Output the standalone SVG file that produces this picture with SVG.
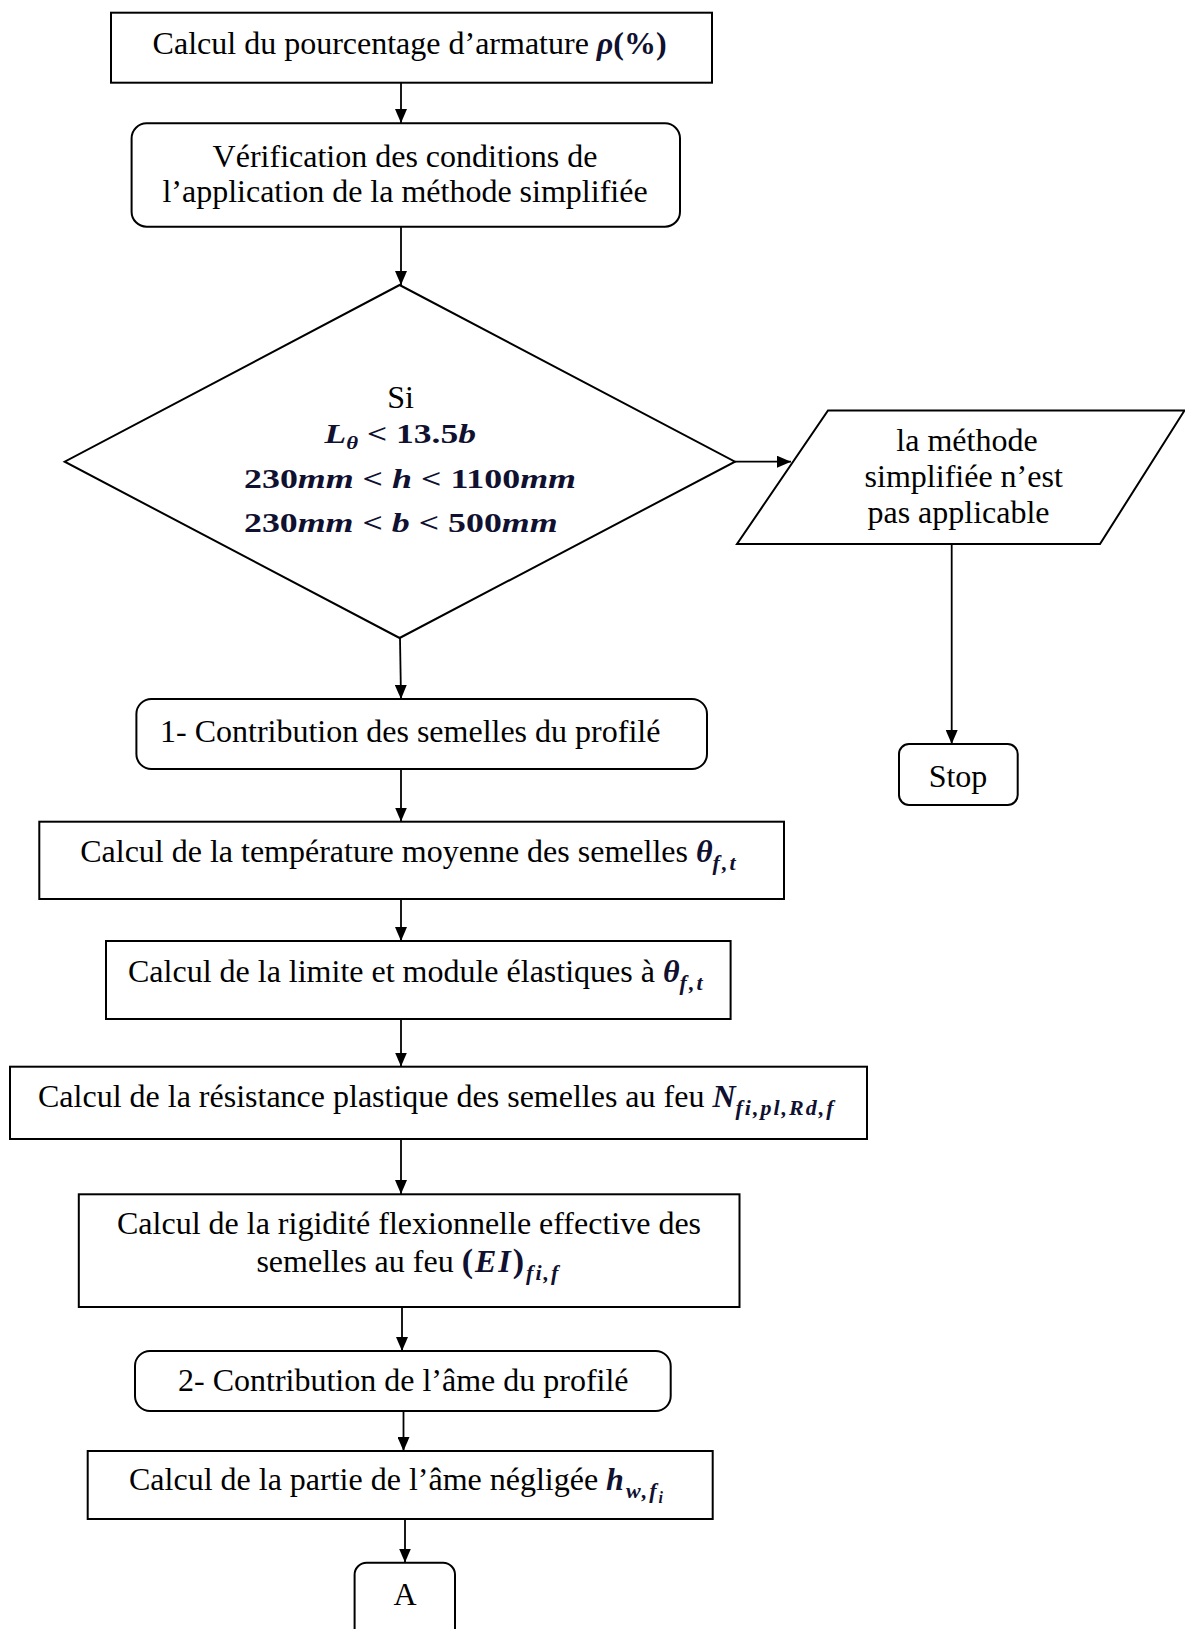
<svg xmlns="http://www.w3.org/2000/svg" width="1185" height="1629" viewBox="0 0 1185 1629">
<style>
.box{fill:#fff;stroke:#000;stroke-width:2}
.t{font-family:"Liberation Serif","Times New Roman",serif;font-size:32px;fill:#000}
.m{font-family:"Liberation Serif","Times New Roman",serif;font-weight:bold;fill:#101030}
.i{font-style:italic}
.sub{font-size:22px;letter-spacing:2px}
.conn{stroke:#000;stroke-width:1.8;fill:none}
</style>
<defs>
<marker id="arr" markerUnits="userSpaceOnUse" markerWidth="14" markerHeight="12" refX="14" refY="6" orient="auto">
<path d="M0,0 L14,6 L0,12 z" fill="#000"/>
</marker>
</defs>
<rect width="1185" height="1629" fill="#fff"/>

<g id="connectors">
<line class="conn" x1="401" y1="83" x2="401" y2="123" marker-end="url(#arr)"/>
<line class="conn" x1="401" y1="227" x2="401" y2="285" marker-end="url(#arr)"/>
<line class="conn" x1="735" y1="461.7" x2="791" y2="461.7" marker-end="url(#arr)"/>
<line class="conn" x1="951.7" y1="544" x2="951.7" y2="744" marker-end="url(#arr)"/>
<line class="conn" x1="400" y1="638" x2="401" y2="699" marker-end="url(#arr)"/>
<line class="conn" x1="401" y1="769" x2="401" y2="821.5" marker-end="url(#arr)"/>
<line class="conn" x1="401" y1="899" x2="401" y2="941" marker-end="url(#arr)"/>
<line class="conn" x1="401" y1="1019" x2="401" y2="1066.5" marker-end="url(#arr)"/>
<line class="conn" x1="401" y1="1139" x2="401" y2="1194" marker-end="url(#arr)"/>
<line class="conn" x1="402" y1="1307" x2="402" y2="1351" marker-end="url(#arr)"/>
<line class="conn" x1="403.5" y1="1411" x2="403.5" y2="1451" marker-end="url(#arr)"/>
<line class="conn" x1="405" y1="1519" x2="405" y2="1562.5" marker-end="url(#arr)"/>
</g>

<g id="n1">
<rect class="box" x="111" y="12.7" width="601" height="70"/>
<text class="t" x="152.6" y="54">Calcul du pourcentage d’armature <tspan class="m i">ρ</tspan><tspan class="m">(%)</tspan></text>
</g>

<g id="n2">
<rect class="box" x="131.6" y="123.3" width="548.4" height="103.4" rx="15"/>
<text class="t" x="405" y="166.7" text-anchor="middle">Vérification des conditions de</text>
<text class="t" x="405" y="202.3" text-anchor="middle">l’application de la méthode simplifiée</text>
</g>

<g id="n3">
<polygon class="box" points="399.6,285 735,461.7 399.6,638 64.7,461.7"/>
<text class="t" x="400.6" y="408" text-anchor="middle">Si</text>
<text class="m" font-size="28" x="324.5" y="443.3" textLength="151.5" lengthAdjust="spacingAndGlyphs"><tspan class="i">L</tspan><tspan class="i" font-size="18" dy="6">θ</tspan><tspan dy="-6"> &lt; 13.5</tspan><tspan class="i">b</tspan></text>
<text class="m" font-size="28" x="244" y="488.3" textLength="332" lengthAdjust="spacingAndGlyphs">230<tspan class="i">mm</tspan> &lt; <tspan class="i">h</tspan> &lt; 1100<tspan class="i">mm</tspan></text>
<text class="m" font-size="28" x="244" y="531.7" textLength="313.6" lengthAdjust="spacingAndGlyphs">230<tspan class="i">mm</tspan> &lt; <tspan class="i">b</tspan> &lt; 500<tspan class="i">mm</tspan></text>
</g>

<g id="n4">
<polygon class="box" points="828,410.5 1184.5,410.5 1100,544 737,544"/>
<text class="t" x="967" y="450.7" text-anchor="middle">la méthode</text>
<text class="t" x="963.7" y="486.7" text-anchor="middle">simplifiée n’est</text>
<text class="t" x="958.5" y="523" text-anchor="middle">pas applicable</text>
</g>

<g id="n5">
<rect class="box" x="899" y="744" width="118.7" height="61" rx="10"/>
<text class="t" x="958" y="787" text-anchor="middle">Stop</text>
</g>

<g id="n6">
<rect class="box" x="136.4" y="699" width="570.6" height="70" rx="15"/>
<text class="t" x="160" y="742">1- Contribution des semelles du profilé</text>
</g>

<g id="n7">
<rect class="box" x="39.3" y="821.7" width="744.7" height="77.3"/>
<text class="t" x="80.2" y="862">Calcul de la température moyenne des semelles <tspan class="m i">θ</tspan><tspan class="m i sub" dy="8">f,t</tspan></text>
</g>

<g id="n8">
<rect class="box" x="106" y="941" width="624.6" height="78"/>
<text class="t" x="128" y="982">Calcul de la limite et module élastiques à <tspan class="m i">θ</tspan><tspan class="m i sub" dy="8">f,t</tspan></text>
</g>

<g id="n9">
<rect class="box" x="10" y="1066.7" width="857" height="72.3"/>
<text class="t" x="38" y="1107">Calcul de la résistance plastique des semelles au feu <tspan class="m i">N</tspan><tspan class="m i sub" dy="8">fi,pl,Rd,f</tspan></text>
</g>

<g id="n10">
<rect class="box" x="78.8" y="1194.3" width="660.7" height="112.7"/>
<text class="t" x="117" y="1234.3">Calcul de la rigidité flexionnelle effective des</text>
<text class="t" x="256.4" y="1271.7">semelles au feu <tspan class="m" font-size="34" letter-spacing="2">(</tspan><tspan class="m i" letter-spacing="2">EI</tspan><tspan class="m" font-size="34" letter-spacing="2">)</tspan><tspan class="m i sub" dy="8">fi,f</tspan></text>
</g>

<g id="n11">
<rect class="box" x="135" y="1351" width="535.7" height="60" rx="15"/>
<text class="t" x="178" y="1390.7">2- Contribution de l’âme du profilé</text>
</g>

<g id="n12">
<rect class="box" x="87.7" y="1451" width="625" height="68"/>
<text class="t" x="129" y="1490">Calcul de la partie de l’âme négligée <tspan class="m i" letter-spacing="2">h</tspan><tspan class="m i sub" dy="8">w,f</tspan><tspan class="m i" font-size="16" dy="5">i</tspan></text>
</g>

<g id="n13">
<rect class="box" x="354.6" y="1562.7" width="100.4" height="80" rx="12"/>
<text class="t" x="405" y="1605" text-anchor="middle">A</text>
</g>
</svg>
